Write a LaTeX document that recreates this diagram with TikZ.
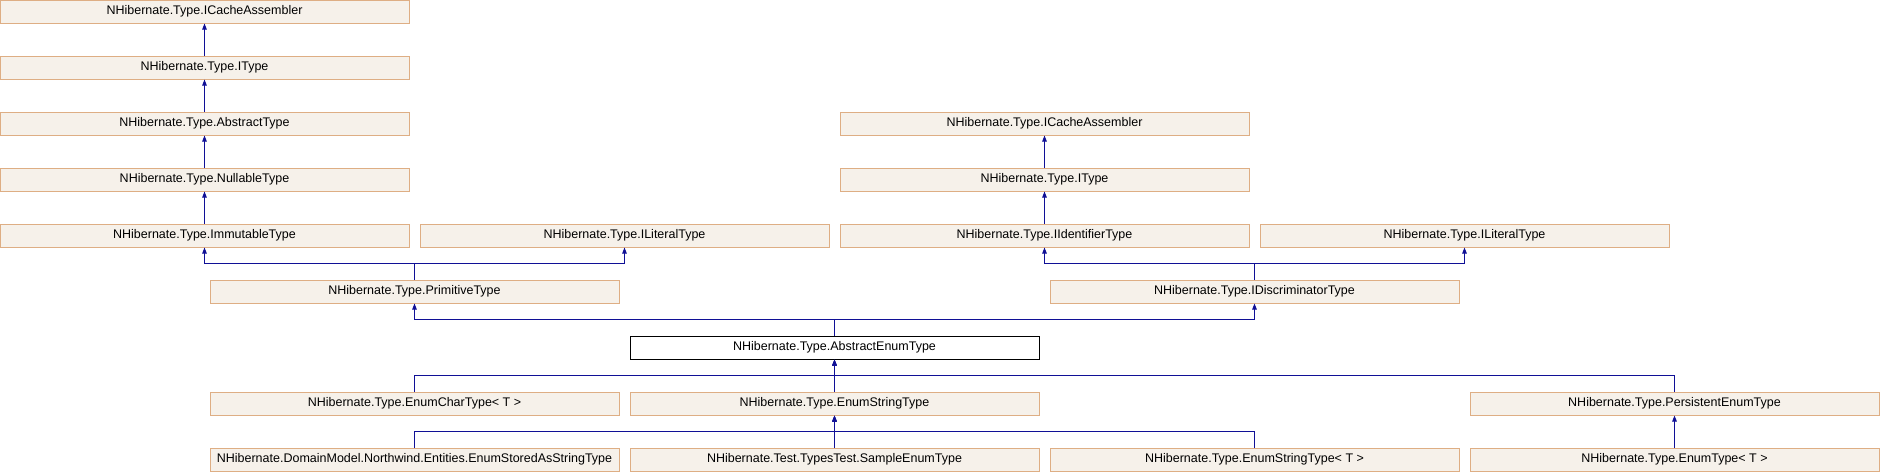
\documentclass[tikz,border=0pt]{standalone}
\usepackage{fontspec}
\setmainfont{Liberation Sans}
\usetikzlibrary{arrows.meta}
\definecolor{boxfill}{RGB}{246,241,234}
\definecolor{boxline}{RGB}{222,174,132}
\definecolor{edgecol}{RGB}{16,16,150}
\tikzset{
  cls/.style={draw=boxline, fill=boxfill, line width=1pt, minimum width=409pt, minimum height=23pt, inner sep=0pt, font=\fontsize{12.5}{14}\selectfont, anchor=center},
  curcls/.style={cls, draw=black, fill=white},
  edge/.style={draw=edgecol, line width=1pt, -{Triangle[width=4.5pt,length=6pt]}}
}
\begin{document}
\begin{tikzpicture}[x=1pt,y=-1pt]
\useasboundingbox (0,0) rectangle (1880,472);
% left column
\node[cls] (ica1) at (204.5,11.5) {NHibernate.Type.ICacheAssembler};
\node[cls] (it1) at (204.5,67.5) {NHibernate.Type.IType};
\node[cls] (abs) at (204.5,123.5) {NHibernate.Type.AbstractType};
\node[cls] (nul) at (204.5,179.5) {NHibernate.Type.NullableType};
\node[cls] (imm) at (204.5,235.5) {NHibernate.Type.ImmutableType};
\node[cls] (lit1) at (624.5,235.5) {NHibernate.Type.ILiteralType};
\node[cls] (prim) at (414.5,291.5) {NHibernate.Type.PrimitiveType};
% right column
\node[cls] (ica2) at (1044.5,123.5) {NHibernate.Type.ICacheAssembler};
\node[cls] (it2) at (1044.5,179.5) {NHibernate.Type.IType};
\node[cls] (iid) at (1044.5,235.5) {NHibernate.Type.IIdentifierType};
\node[cls] (lit2) at (1464.5,235.5) {NHibernate.Type.ILiteralType};
\node[cls] (disc) at (1254.5,291.5) {NHibernate.Type.IDiscriminatorType};
% current
\node[curcls] (aet) at (834.5,347.5) {NHibernate.Type.AbstractEnumType};
% children
\node[cls] (ect) at (414.5,403.5) {NHibernate.Type.EnumCharType< T >};
\node[cls] (est) at (834.5,403.5) {NHibernate.Type.EnumStringType};
\node[cls] (pet) at (1674.5,403.5) {NHibernate.Type.PersistentEnumType};
\node[cls] (esa) at (414.5,459.5) {NHibernate.DomainModel.Northwind.Entities.EnumStoredAsStringType};
\node[cls] (sam) at (834.5,459.5) {NHibernate.Test.TypesTest.SampleEnumType};
\node[cls] (estt) at (1254.5,459.5) {NHibernate.Type.EnumStringType< T >};
\node[cls] (ett) at (1674.5,459.5) {NHibernate.Type.EnumType< T >};
% edges
\draw[edge] (it1.north) -- (ica1.south);
\draw[edge] (abs.north) -- (it1.south);
\draw[edge] (nul.north) -- (abs.south);
\draw[edge] (imm.north) -- (nul.south);
\draw[edge] (prim.north) -- ++(0,-16) -| (imm.south);
\draw[edge] (prim.north) -- ++(0,-16) -| (lit1.south);
\draw[edge] (it2.north) -- (ica2.south);
\draw[edge] (iid.north) -- (it2.south);
\draw[edge] (disc.north) -- ++(0,-16) -| (iid.south);
\draw[edge] (disc.north) -- ++(0,-16) -| (lit2.south);
\draw[edge] (aet.north) -- ++(0,-16) -| (prim.south);
\draw[edge] (aet.north) -- ++(0,-16) -| (disc.south);
\draw[edge] (ect.north) -- ++(0,-16) -| (aet.south);
\draw[edge] (est.north) -- (aet.south);
\draw[edge] (pet.north) -- ++(0,-16) -| (aet.south);
\draw[edge] (esa.north) -- ++(0,-16) -| (est.south);
\draw[edge] (sam.north) -- (est.south);
\draw[edge] (estt.north) -- ++(0,-16) -| (est.south);
\draw[edge] (ett.north) -- (pet.south);
\end{tikzpicture}
\end{document}
